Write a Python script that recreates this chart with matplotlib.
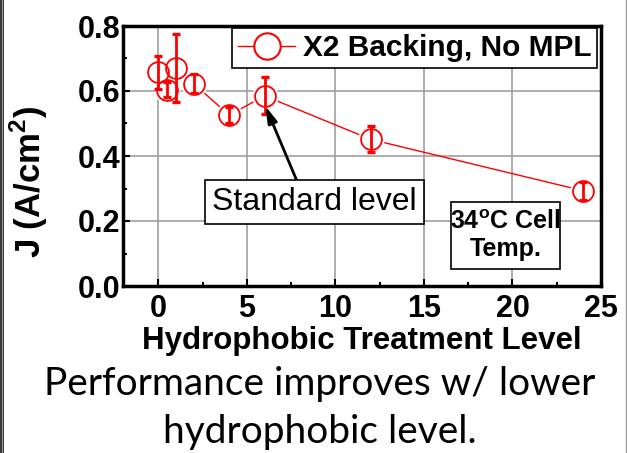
import matplotlib
matplotlib.use("Agg")
import matplotlib.pyplot as plt
from matplotlib.lines import Line2D
from matplotlib.patches import Rectangle
from matplotlib.ticker import MultipleLocator

plt.rcParams['font.family'] = ['Liberation Sans', 'DejaVu Sans']
plt.rcParams['mathtext.fontset'] = 'custom'
plt.rcParams['mathtext.rm'] = 'Liberation Sans'
plt.rcParams['mathtext.bf'] = 'Liberation Sans:bold'

# 疏水处理等级 - 电流密度
level = [0, 0.5, 1, 2, 4, 6, 12, 24]
j_mean = [0.659, 0.603, 0.672, 0.622, 0.526, 0.585, 0.451, 0.293]
j_low = [0.606, 0.581, 0.567, 0.593, 0.502, 0.528, 0.413, 0.265]
j_high = [0.709, 0.627, 0.775, 0.652, 0.550, 0.642, 0.492, 0.321]
series_name = "X2 Backing, No MPL"
x_ticks = [0, 5, 10, 15, 20, 25]
y_ticks = [0.0, 0.2, 0.4, 0.6, 0.8]

W, H = 627, 453
fig = plt.figure(figsize=(W / 100, H / 100), dpi=100)
ax = fig.add_axes([123 / W, 1 - 286 / H, (601 - 123) / W, (286 - 26) / H])

red = '#ff0000'
err_lo = [m - l for m, l in zip(j_mean, j_low)]
err_hi = [h - m for m, h in zip(j_mean, j_high)]

ax.plot(level, j_mean, color=red, lw=1.0, zorder=3)
# 白色底圈, 让连线在圆圈前断开
ax.plot(level, j_mean, 'o', ms=18, mfc='white', mec='white', zorder=4)
ax.errorbar(level, j_mean, yerr=[err_lo, err_hi], fmt='none', ecolor=red,
            elinewidth=2, capsize=2.8, capthick=2.4, zorder=5)
ax.plot(level, j_mean, 'o', ms=15, mfc='none', mec=red, mew=1.3, zorder=6)

ax.set_xlim(-2, 25)
ax.set_ylim(0, 0.8)
ax.set_xticks(x_ticks)
ax.set_yticks(y_ticks)
ax.set_yticklabels([f"{v:.1f}" for v in y_ticks])
ax.xaxis.set_minor_locator(MultipleLocator(2.5))
ax.yaxis.set_minor_locator(MultipleLocator(0.1))
ax.tick_params(which='both', direction='in', width=1.5, labelsize=22, top=False, right=False)
ax.tick_params(which='major', length=5)
ax.tick_params(which='minor', length=3)
ax.tick_params(axis='x', pad=6)
ax.tick_params(axis='y', pad=2)
for lab in ax.get_xticklabels() + ax.get_yticklabels():
    lab.set_fontweight('bold')
ax.grid(True, which='major', color='#a0a0a0', lw=1.2, zorder=0)
ax.set_axisbelow(True)
for sp in ax.spines.values():
    sp.set_linewidth(2.5)

ax.set_xlabel("Hydrophobic Treatment Level", fontsize=22.5, fontweight='bold', labelpad=1)
ax.set_ylabel(r"J (A/cm$^\mathbf{2}$)", fontsize=25, fontweight='bold')
ax.yaxis.set_label_coords(-0.152, 0.40)

proxy = Line2D([], [], color=red, lw=1.0, marker='o', ms=19, mfc='white', mec=red, mew=1.5)
leg = ax.legend(handles=[proxy], labels=[series_name], loc='upper right',
                bbox_to_anchor=(0.992, 0.992), borderaxespad=0, borderpad=0.2,
                handlelength=1.9, handletextpad=0.25, fancybox=False, framealpha=1,
                edgecolor='black', prop={'size': 21.5, 'weight': 'bold'})
leg.get_frame().set_linewidth(1.2)
leg.set_zorder(10)

ax.annotate('', xy=(6.04, 0.554), xytext=(7.85, 0.32),
            arrowprops=dict(arrowstyle='-|>,head_length=1.0,head_width=0.28', lw=2,
                            color='black', shrinkA=0, shrinkB=0), zorder=8)
ax.text(8.81, 0.258, "Standard level", fontsize=23, ha='center', va='center', zorder=9,
        bbox=dict(boxstyle='square,pad=0.22', fc='white', ec='black', lw=1.2))

ax.add_patch(Rectangle((16.51, 0.052), 6.17, 0.206, fc='white', ec='black', lw=1.2, zorder=8))
ax.text(19.6, 0.155, "34$^\\mathbf{o}$C Cell\nTemp.", fontsize=18, fontweight='bold',
        ha='center', va='center', linespacing=1.15, zorder=9)

fig.text(320 / W, 1 - 395 / H, "Performance improves w/ lower", fontsize=28,
         family=['Lato', 'DejaVu Sans'], ha='center', va='baseline')
fig.text(320 / W, 1 - 443 / H, "hydrophobic level.", fontsize=28,
         family=['Lato', 'DejaVu Sans'], ha='center', va='baseline')

# 幻灯片边框
fig.patches.append(Rectangle((0, 0), 4 / W, 1, transform=fig.transFigure, fc='#3a3a3a', ec='none'))
fig.patches.append(Rectangle((1.5 / W, 0), 1 / W, 1, transform=fig.transFigure, fc='#9a9a9a', ec='none'))
fig.lines.append(Line2D([625.5 / W, 625.5 / W], [0, 1], transform=fig.transFigure, color='#a0a0a0', lw=1))

fig.savefig("out.png", dpi=100)
